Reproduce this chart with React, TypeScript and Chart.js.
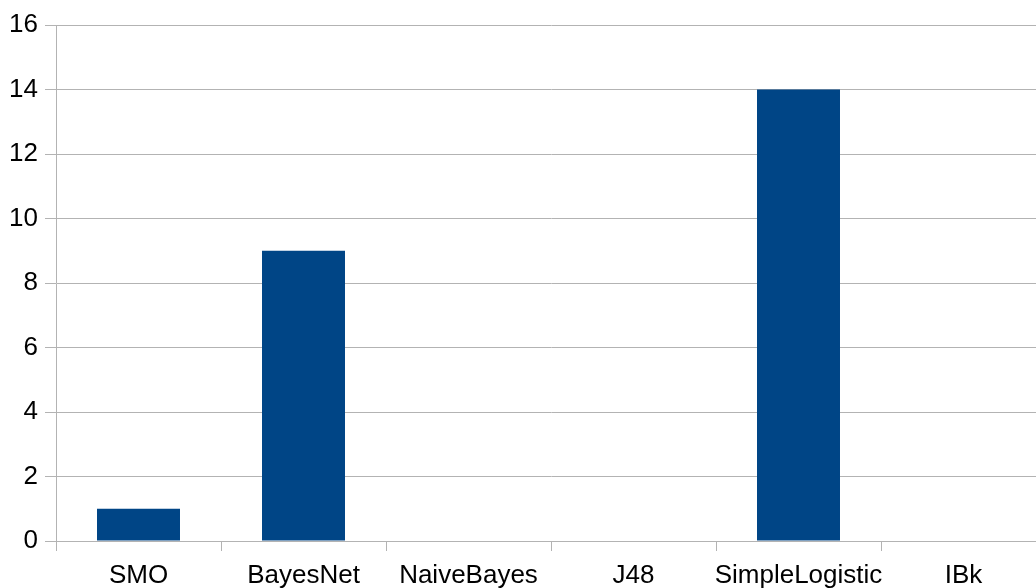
import React, { useEffect, useRef } from "react";
import { Chart, registerables } from "chart.js";

Chart.register(...registerables);

const categories = ["SMO", "BayesNet", "NaiveBayes", "J48", "SimpleLogistic", "IBk"];
const values = [1, 9, 0, 0, 14, 0];

export default function App() {
  const ref = useRef<HTMLCanvasElement | null>(null);
  useEffect(() => {
    document.body.style.margin = "0";
    document.body.style.overflow = "hidden";
    const ctx = ref.current!;
    const chart = new Chart(ctx, {
      type: "bar",
      data: {
        labels: categories,
        datasets: [
          {
            data: values,
            backgroundColor: "#004586",
            borderWidth: 0,
            categoryPercentage: 1,
            barPercentage: 0.503,
          },
        ],
      },
      options: {
        animation: false,
        responsive: false,
        maintainAspectRatio: false,
        layout: { padding: { top: 25, right: 0, left: 0, bottom: 0 } },
        plugins: { legend: { display: false }, tooltip: { enabled: false } },
        scales: {
          x: {
            grid: {
              drawOnChartArea: false,
              color: "#b3b3b3",
              tickLength: 10,
              offset: true,
            },
            border: { display: false },
            ticks: {
              color: "#000",
              font: { family: "Liberation Sans", size: 26 },
              padding: 9,
              maxRotation: 0,
              minRotation: 0,
              autoSkip: false,
            },
            afterFit: (s: any) => {
              s.height = 47;
            },
          },
          y: {
            min: 0,
            max: 16,
            ticks: {
              stepSize: 2,
              color: "#000",
              font: { family: "Liberation Sans", size: 26 },
              padding: 7,
            },
            grid: { color: "#b3b3b3", tickLength: 11 },
            border: { display: true, color: "#b3b3b3" },
            afterFit: (s: any) => {
              s.width = 56;
            },
          },
        },
      },
    });
    return () => chart.destroy();
  }, []);
  return (
    <div style={{ width: 1036, height: 588, overflow: "hidden" }}>
      <canvas ref={ref} width={1046} height={588} style={{ display: "block" }} />
    </div>
  );
}
